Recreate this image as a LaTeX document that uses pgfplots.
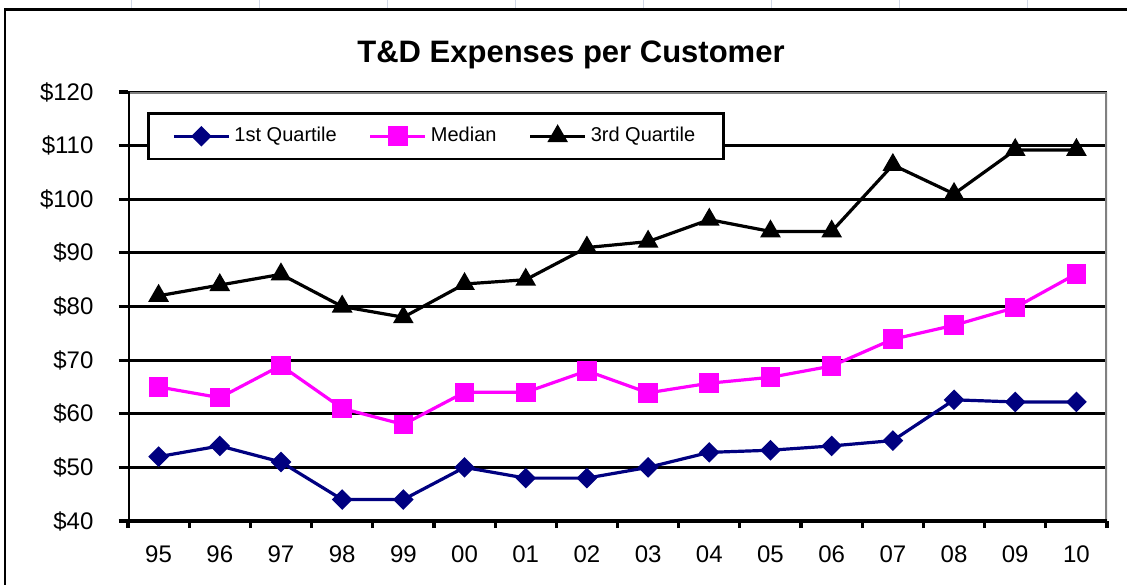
\documentclass[border=0pt]{standalone}
\usepackage{fontspec}
\setmainfont{Liberation Sans}
\usepackage{pgfplots}
\usepackage{pgfplotstable}
\pgfplotsset{compat=1.18}
\definecolor{navyq}{RGB}{0,0,128}
\definecolor{mag}{RGB}{255,0,255}
\definecolor{sheet}{RGB}{208,215,229}
\definecolor{bordergray}{RGB}{128,128,128}

\pgfplotstableread{
x q1 med q3
0 52 65 82
1 54 63 84
2 51 69 86
3 44 61 80
4 44 58 78
5 50 64 84.2
6 48 64 85
7 48 68 91
8 50 63.9 92.1
9 52.8 65.7 96.2
10 53.2 66.8 94
11 54 68.9 94
12 55 73.9 106.4
13 62.6 76.5 101
14 62.2 79.8 109.2
15 62.2 86.1 109.2
}\data

\begin{document}
\begin{tikzpicture}
\useasboundingbox (0pt,0pt) rectangle (563.5pt,292pt);
\foreach \gx in {65.85,129.85,193.85,257.85,321.85,385.85,449.85,513.85}
  \draw[sheet, line width=0.7pt] (\gx pt,287.5pt) -- (\gx pt,292pt);
\draw[black, line width=1.1pt] (2.5pt,-1pt) -- (2.5pt,287.25pt) -- (565pt,287.25pt);
\node[font=\bfseries\fontsize{15.5}{18}\selectfont, anchor=base] at (285.5pt,260.5pt) {T\&D Expenses per Customer};
\begin{axis}[
  at={(64pt,31.5pt)}, anchor=south west,
  scale only axis, width=489.5pt, height=214.5pt,
  xmin=-0.5, xmax=15.5, ymin=40, ymax=120,
  axis line style={draw=none},
  ytick={40,50,...,120},
  yticklabels={\$40,\$50,\$60,\$70,\$80,\$90,\$100,\$110,\$120},
  xtick={0,...,15},
  xticklabels={95,96,97,98,99,00,01,02,03,04,05,06,07,08,09,10},
  minor xtick={-0.5,0.5,...,15.5},
  every major x tick/.style={draw=none},
  tick align=outside, xtick pos=bottom, ytick pos=left,
  major tick length=4.75pt, minor tick length=3.5pt,
  tick style={black, line width=1.6pt},
  ymajorgrids, major grid style={black, line width=1.5pt},
  ticklabel style={font=\fontsize{12}{14}\selectfont},
  yticklabel style={xshift=-9pt},
  xticklabel style={yshift=-4pt},
  legend columns=3,
  legend style={at={(0.0194,0.953)}, anchor=north west, draw=black, line width=1.3pt,
    fill=white, font=\fontsize{10}{12}\selectfont, inner xsep=12pt, inner ysep=5pt,
    /tikz/every even column/.append style={column sep=14pt}},
  legend image code/.code={\draw[mark repeat=2,mark phase=2] plot coordinates {(0pt,0pt) (13.75pt,0pt) (27.5pt,0pt)};},
]
\addplot[navyq, line width=1.6pt, mark=square*, mark size=2.85pt, mark options={rotate=45, solid, fill=navyq}] table[x=x,y=q1]{\data};
\addlegendentry{1st Quartile}
\addplot[mag, line width=1.6pt, mark=square*, mark size=4.1pt, mark options={solid, fill=mag}] table[x=x,y=med]{\data};
\addlegendentry{Median}
\addplot[black, line width=1.6pt, mark=triangle*, mark size=4.4pt, mark options={solid, fill=black}] table[x=x,y=q3]{\data};
\addlegendentry{3rd Quartile}
\end{axis}
\begin{axis}[
  at={(64pt,31.5pt)}, anchor=south west,
  scale only axis, width=489.5pt, height=214.5pt,
  xmin=-0.5, xmax=15.5, ymin=40, ymax=120,
  hide axis,
]
\addplot[draw=none] coordinates {(0,50)};
\draw[bordergray, line width=1.75pt] (rel axis cs:0,1) -- (rel axis cs:1,1) -- (rel axis cs:1,0);
\draw[black, line width=1.9pt] (rel axis cs:0,1) -- (rel axis cs:0,0) -- (rel axis cs:1,0);
\end{axis}
\end{tikzpicture}
\end{document}
